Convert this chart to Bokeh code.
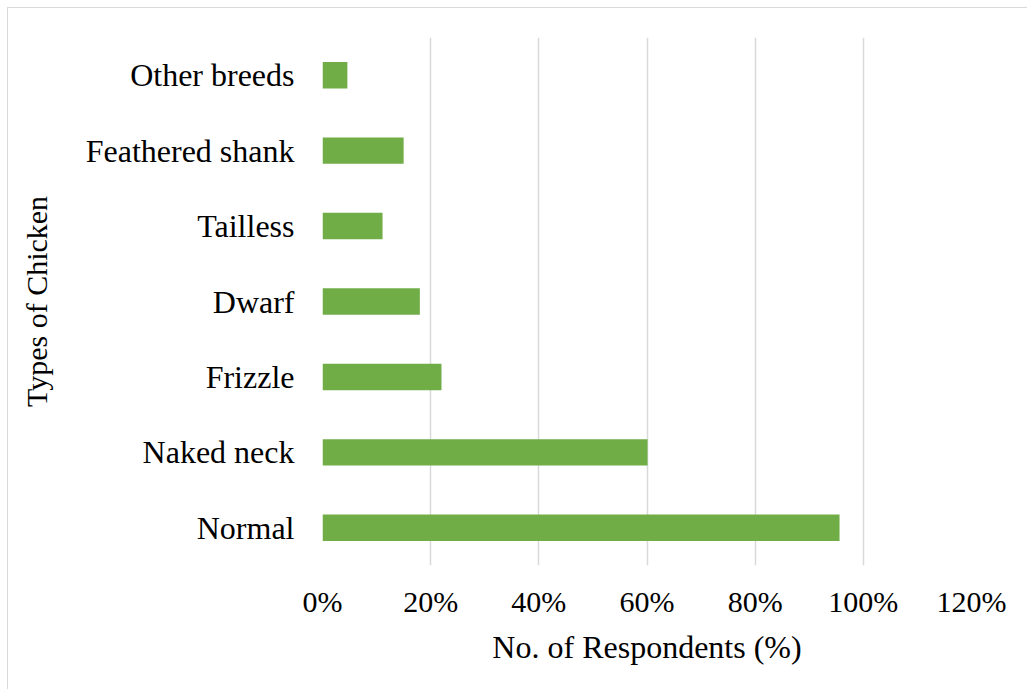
from bokeh.plotting import figure
from bokeh.models import Range1d, FactorRange, FixedTicker, NumeralTickFormatter, ColumnDataSource
from bokeh.embed import file_html
from bokeh.resources import INLINE

# Data (bottom to top)
categories = ["Normal", "Naked neck", "Frizzle", "Dwarf", "Tailless", "Feathered shank", "Other breeds"]
respondents = [0.956, 0.601, 0.22, 0.18, 0.111, 0.15, 0.046]
x_ticks = [0, 0.2, 0.4, 0.6, 0.8, 1.0, 1.2]

FONT = "Liberation Serif"

src = ColumnDataSource(data=dict(cat=categories, val=respondents))

p = figure(
    width=1020, height=682,
    y_range=FactorRange(*categories, range_padding=0),
    x_range=Range1d(0, 1.2),
    output_backend="svg", toolbar_location=None,
    min_border_left=314, min_border_right=57,
    min_border_top=29, min_border_bottom=125,
)
p.styles = {"margin": "8px 0 0 8px", "box-shadow": "-1px -1px 0 0 #d9d9d9"}

p.hbar(y="cat", right="val", left=0, height=0.35, source=src,
       fill_color="#70AD47", line_color=None)

p.outline_line_color = None
p.ygrid.grid_line_color = None
p.xgrid.grid_line_color = "#d9d9d9"
p.xgrid.grid_line_width = 1.5
p.xgrid.ticker = FixedTicker(ticks=x_ticks)

xa = p.xaxis[0]
xa.ticker = FixedTicker(ticks=x_ticks)
xa.formatter = NumeralTickFormatter(format="0%")
xa.axis_line_color = None
xa.major_tick_line_color = None
xa.minor_tick_line_color = None
xa.major_label_text_font = FONT
xa.major_label_text_font_size = "30px"
xa.major_label_text_color = "black"
xa.major_label_standoff = 13
xa.axis_label = "No. of Respondents (%)"
xa.axis_label_text_font = FONT
xa.axis_label_text_font_size = "32px"
xa.axis_label_text_font_style = "normal"
xa.axis_label_text_color = "black"
xa.axis_label_standoff = 8

ya = p.yaxis[0]
ya.axis_line_color = None
ya.major_tick_line_color = None
ya.minor_tick_line_color = None
ya.major_label_text_font = FONT
ya.major_label_text_font_size = "32px"
ya.major_label_text_color = "black"
ya.major_label_standoff = 22
ya.axis_label = "Types of Chicken"
ya.axis_label_text_font = FONT
ya.axis_label_text_font_size = "30px"
ya.axis_label_text_font_style = "normal"
ya.axis_label_text_color = "black"
ya.axis_label_standoff = 30

open("out.html", "w").write(file_html(p, INLINE))
